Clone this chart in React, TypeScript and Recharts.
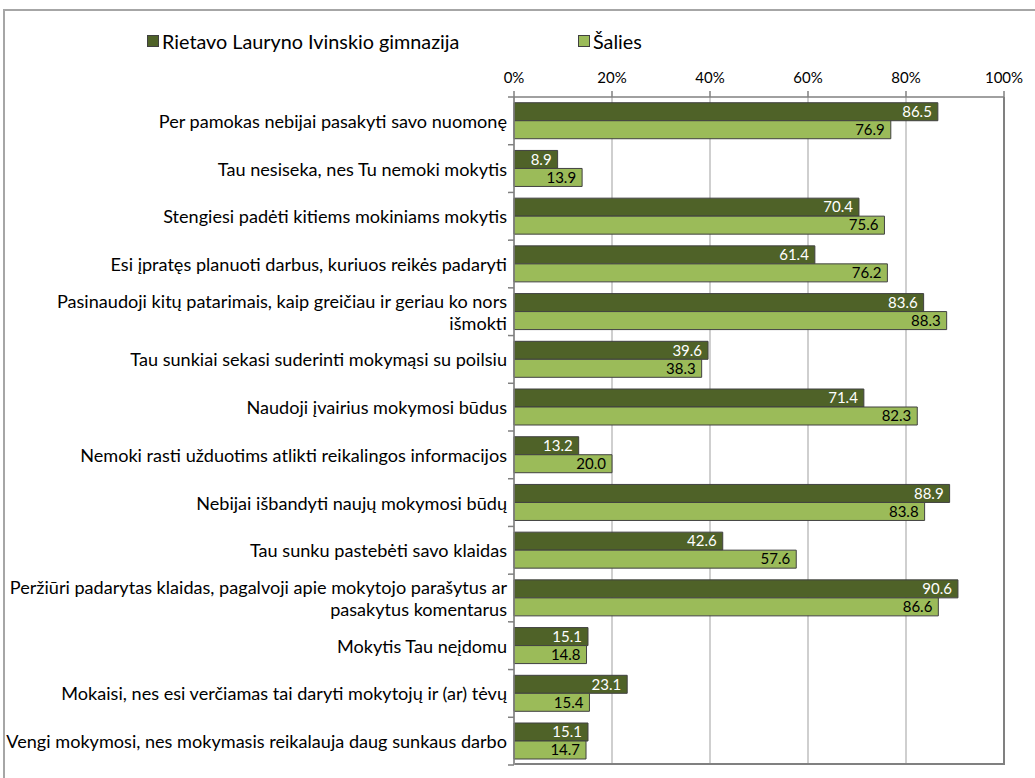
import React from 'react';
import { BarChart, Bar, XAxis, YAxis, CartesianGrid, LabelList } from 'recharts';

const categories = [
  'Per pamokas nebijai pasakyti savo nuomonę',
  'Tau nesiseka, nes Tu nemoki mokytis',
  'Stengiesi padėti kitiems mokiniams mokytis',
  'Esi įpratęs planuoti darbus, kuriuos reikės padaryti',
  'Pasinaudoji kitų patarimais, kaip greičiau ir geriau ko nors išmokti',
  'Tau sunkiai sekasi suderinti mokymąsi su poilsiu',
  'Naudoji įvairius mokymosi būdus',
  'Nemoki rasti užduotims atlikti reikalingos informacijos',
  'Nebijai išbandyti naujų mokymosi būdų',
  'Tau sunku pastebėti savo klaidas',
  'Peržiūri padarytas klaidas, pagalvoji apie mokytojo parašytus ar pasakytus komentarus',
  'Mokytis Tau neįdomu',
  'Mokaisi, nes esi verčiamas tai daryti mokytojų ir (ar) tėvų',
  'Vengi mokymosi, nes mokymasis reikalauja daug sunkaus darbo',
];

const schoolValues = [86.5, 8.9, 70.4, 61.4, 83.6, 39.6, 71.4, 13.2, 88.9, 42.6, 90.6, 15.1, 23.1, 15.1];
const countryValues = [76.9, 13.9, 75.6, 76.2, 88.3, 38.3, 82.3, 20.0, 83.8, 57.6, 86.6, 14.8, 15.4, 14.7];

const seriesNames = ['Rietavo Lauryno Ivinskio gimnazija', 'Šalies'];
const xTicks = [0, 20, 40, 60, 80, 100];

const DARK = '#4f6228';
const LIGHT = '#9bbb59';
const FONT = 'Lato, "Open Sans", sans-serif';

const W = 1035;
const H = 778;
const PLOT_LEFT = 514;
const PLOT_TOP = 97;
const PLOT_RIGHT = 1004;
const PLOT_BOTTOM = 765;
const BAND = (PLOT_BOTTOM - PLOT_TOP) / categories.length;

const data = categories.map((name, i) => ({
  name,
  school: schoolValues[i],
  country: countryValues[i],
}));

// break long labels roughly the way Excel did
function wrap(text: string, max: number): string[] {
  const words = text.split(' ');
  const lines: string[] = [];
  let cur = '';
  words.forEach((w) => {
    const next = cur ? cur + ' ' + w : w;
    if (next.length > max && cur) {
      lines.push(cur);
      cur = w;
    } else {
      cur = next;
    }
  });
  if (cur) lines.push(cur);
  return lines;
}

const CategoryTick = (props: any) => {
  const { x, y, payload, index } = props;
  const lines = wrap(payload.value, 65);
  const lh = 22;
  const y0 = y - ((lines.length - 1) * lh) / 2;
  return (
    <g>
      <text x={x} y={y0} textAnchor="end" dominantBaseline="central" fontSize={18.1} fill="#000" fontFamily={FONT}>
        {lines.map((l, i) => (
          <tspan key={i} x={x} dy={i === 0 ? 0 : lh}>
            {l}
          </tspan>
        ))}
      </text>
      {index === 0 && (
        <line x1={PLOT_LEFT - 6} x2={PLOT_LEFT} y1={y - BAND / 2} y2={y - BAND / 2} stroke="#808080" strokeWidth={1.5} />
      )}
      <line x1={PLOT_LEFT - 6} x2={PLOT_LEFT} y1={y + BAND / 2} y2={y + BAND / 2} stroke="#808080" strokeWidth={1.5} />
    </g>
  );
};

const App: React.FC = () => {
  return (
    <div style={{ position: 'relative', width: W, height: H, overflow: 'hidden', background: '#fff', fontFamily: FONT }}>
      <style>{'body{margin:0}'}</style>
      <div
        style={{
          position: 'absolute',
          left: 3,
          top: 9,
          width: 1100,
          height: 900,
          border: '2px solid #a6a6a6',
        }}
      />
      <div style={{ position: 'absolute', top: 29, left: 147, display: 'flex', alignItems: 'center', fontSize: 19.8 }}>
        <span style={{ width: 10, height: 10, background: DARK, border: '1px solid #404040', marginRight: 3 }} />
        <span>{seriesNames[0]}</span>
      </div>
      <div style={{ position: 'absolute', top: 29, left: 578, display: 'flex', alignItems: 'center', fontSize: 19.8 }}>
        <span style={{ width: 10, height: 10, background: LIGHT, border: '1px solid #404040', marginRight: 3 }} />
        <span>{seriesNames[1]}</span>
      </div>
      <div style={{ position: 'absolute', left: 0, top: 0 }}>
        <BarChart
          width={W}
          height={H}
          data={data}
          layout="vertical"
          margin={{ top: PLOT_TOP - 30, right: W - PLOT_RIGHT, bottom: H - PLOT_BOTTOM, left: 4 }}
          barCategoryGap="12%"
          barGap={0}
          style={{ fontFamily: FONT }}
        >
          <CartesianGrid horizontal={false} stroke="#bfbfbf" strokeWidth={1.5} />
          <XAxis
            type="number"
            orientation="top"
            domain={[0, 100]}
            ticks={xTicks}
            tickFormatter={(v) => `${v}%`}
            height={30}
            tickSize={6}
            tickMargin={8}
            stroke="#808080"
            strokeWidth={1.5}
            tick={{ fill: '#000', fontSize: 15, fontFamily: FONT }}
            interval={0}
          />
          <YAxis
            type="category"
            dataKey="name"
            width={PLOT_LEFT - 4}
            tickSize={0}
            tickMargin={7}
            tickLine={false}
            stroke="#808080"
            strokeWidth={1.5}
            tick={<CategoryTick />}
            interval={0}
          />
          <Bar dataKey="school" name={seriesNames[0]} fill={DARK} stroke="#404040" strokeWidth={1} isAnimationActive={false}>
            <LabelList dataKey="school" position="insideRight" offset={6} fill="#fff" fontSize={15} fontFamily={FONT} formatter={(v: any) => Number(v).toFixed(1)} />
          </Bar>
          <Bar dataKey="country" name={seriesNames[1]} fill={LIGHT} stroke="#404040" strokeWidth={1} isAnimationActive={false}>
            <LabelList dataKey="country" position="insideRight" offset={6} fill="#000" fontSize={15} fontFamily={FONT} formatter={(v: any) => Number(v).toFixed(1)} />
          </Bar>
        </BarChart>
      </div>
      <div
        style={{
          position: 'absolute',
          left: PLOT_LEFT,
          top: PLOT_TOP,
          width: PLOT_RIGHT - PLOT_LEFT,
          height: PLOT_BOTTOM - PLOT_TOP,
          borderRight: '2px solid #808080',
          borderBottom: '2px solid #808080',
          boxSizing: 'border-box',
          marginLeft: 1,
          pointerEvents: 'none',
        }}
      />
    </div>
  );
};

export default App;
